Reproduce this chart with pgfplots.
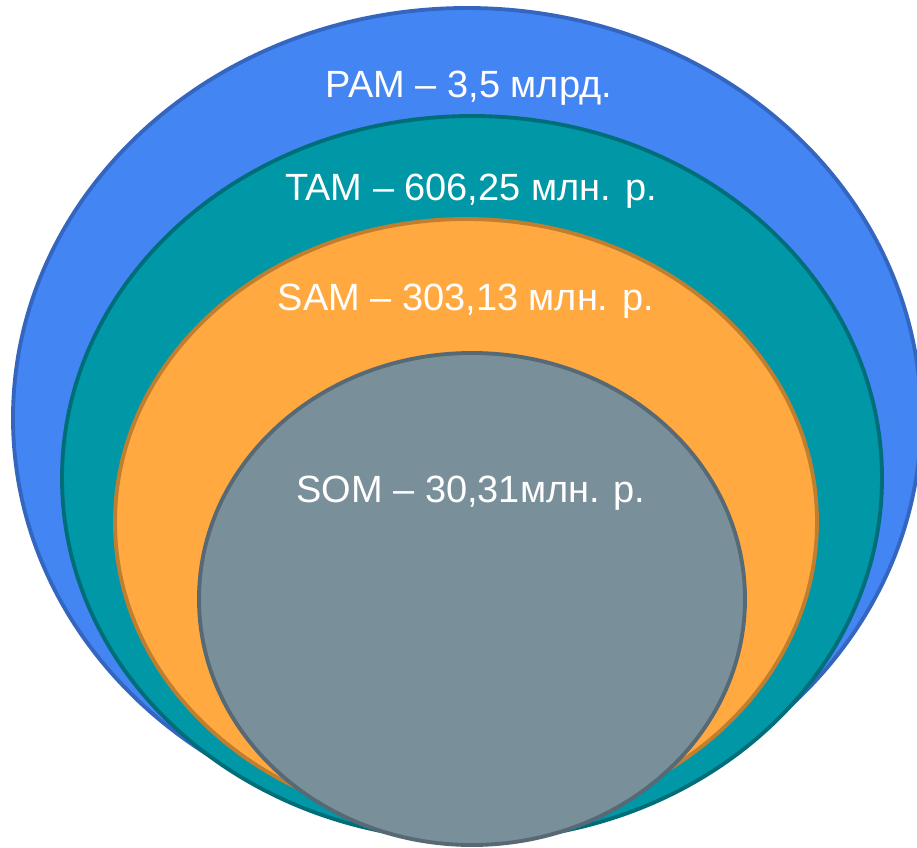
\documentclass[border=0pt]{standalone}
\usepackage{pgfplots}
\pgfplotsset{compat=1.18}
\usepackage{fontspec}
\setmainfont{Liberation Sans}

\definecolor{pamfill}{HTML}{4485F4}
\definecolor{pamline}{HTML}{3466C0}
\definecolor{tamfill}{HTML}{0097A7}
\definecolor{tamline}{HTML}{006E79}
\definecolor{samfill}{HTML}{FFA940}
\definecolor{samline}{HTML}{C07E2E}
\definecolor{somfill}{HTML}{798F9A}
\definecolor{somline}{HTML}{566975}

\begin{document}
\begin{tikzpicture}
\begin{axis}[
    width=9.17cm, height=8.48cm,
    scale only axis,
    xmin=0, xmax=917, ymin=0, ymax=848,
    y dir=reverse,
    hide axis,
    clip=true,
]
% nested markets: centre x, centre y, radius x, radius y (pixels of the reference)
\draw[fill=pamfill, draw=pamline, line width=1.1pt]
    (axis cs:467,418) ellipse [x radius=454, y radius=410];
\draw[fill=tamfill, draw=tamline, line width=1.1pt]
    (axis cs:472,478) ellipse [x radius=410, y radius=362];
\draw[fill=samfill, draw=samline, line width=1.1pt]
    (axis cs:466,522) ellipse [x radius=351, y radius=303];
\draw[fill=somfill, draw=somline, line width=1.1pt]
    (axis cs:472,599) ellipse [x radius=273, y radius=246];

\node[text=white, font=\fontsize{10.8}{13}\selectfont] at (axis cs:469,88) {PAM – 3,5 млрд.};
\node[text=white, font=\fontsize{10.8}{13}\selectfont] at (axis cs:471,191) {TAM – 606,25 млн. р.};
\node[text=white, font=\fontsize{10.8}{13}\selectfont] at (axis cs:466,301) {SAM – 303,13 млн. р.};
\node[text=white, font=\fontsize{10.8}{13}\selectfont] at (axis cs:471,493) {SOM – 30,31млн. р.};
\end{axis}
\pgfresetboundingbox
\useasboundingbox (current axis.south west) rectangle (current axis.north east);
\end{tikzpicture}
\end{document}
